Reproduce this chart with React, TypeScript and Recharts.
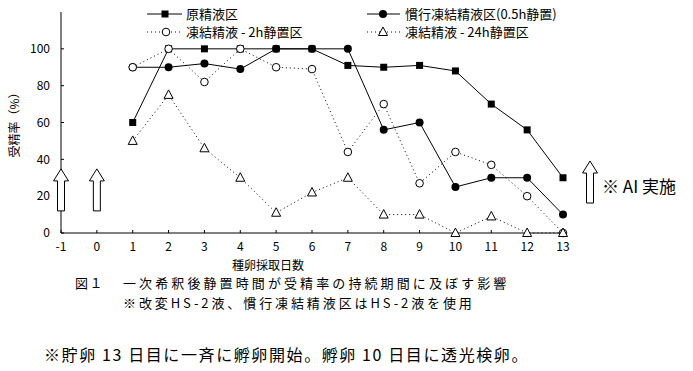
import React from 'react';
import { Line, XAxis, YAxis, Scatter, ComposedChart } from 'recharts';

const days = [1, 2, 3, 4, 5, 6, 7, 8, 9, 10, 11, 12, 13];
const genSeieki = [60, 100, 100, 100, 100, 100, 91, 90, 91, 88, 70, 56, 30];
const kankou = [90, 90, 92, 89, 100, 100, 100, 56, 60, 25, 30, 30, 10];
const touketsu2h = [90, 100, 82, 100, 90, 89, 44, 70, 27, 44, 37, 20, 0];
const touketsu24h = [50, 75, 46, 30, 11, 22, 30, 10, 10, 0, 9, 0, 0];
const xTicks = [-1, 0, 1, 2, 3, 4, 5, 6, 7, 8, 9, 10, 11, 12, 13];
const yTicks = [0, 20, 40, 60, 80, 100];
const arrowDays = [-1, 0];

const data = days.map((d, i) => ({
  day: d,
  gen: genSeieki[i],
  kan: kankou[i],
  t2: touketsu2h[i],
  t24: touketsu24h[i],
}));
const arrowData = arrowDays.map((d) => ({ day: d, y: 12 }));

const FONT = '"Noto Sans CJK JP", sans-serif';

const SquareDot = (p: any) => (
  <rect key={p.key} x={p.cx - 3.5} y={p.cy - 3.5} width={7} height={7} fill="#000" />
);
const FilledDot = (p: any) => <circle key={p.key} cx={p.cx} cy={p.cy} r={4} fill="#000" />;
const OpenDot = (p: any) => (
  <circle key={p.key} cx={p.cx} cy={p.cy} r={3.8} fill="#fff" stroke="#000" strokeWidth={1} />
);
const TriDot = (p: any) => (
  <polygon
    key={p.key}
    points={`${p.cx},${p.cy - 5} ${p.cx - 4.5},${p.cy + 3.5} ${p.cx + 4.5},${p.cy + 3.5}`}
    fill="#fff"
    stroke="#000"
    strokeWidth={1}
  />
);

// hollow up arrow, base at (cx, cy)
const arrowPts = (cx: number, cy: number) =>
  `${cx - 3.5},${cy} ${cx + 3.5},${cy} ${cx + 3.5},${cy - 30} ${cx + 7.5},${cy - 30} ${cx},${cy - 42} ${cx - 7.5},${cy - 30} ${cx - 3.5},${cy - 30}`;
const ArrowShape = (p: any) => (
  <polygon points={arrowPts(p.cx, p.cy)} fill="#fff" stroke="#000" strokeWidth={1} />
);

const txt = { fontFamily: FONT, fill: '#000' };

export default function App() {
  return (
    <div style={{ position: 'absolute', left: 0, top: 0, width: 693, height: 371, background: '#fff' }}>
      <ComposedChart
        width={693}
        height={371}
        data={data}
        margin={{ top: 12, right: 130, bottom: 108, left: 21 }}
      >
        <XAxis
          type="number"
          dataKey="day"
          domain={[-1, 13]}
          ticks={xTicks}
          interval={0}
          height={30}
          tickSize={-3}
          tickMargin={12}
          axisLine={{ stroke: '#000' }}
          tickLine={{ stroke: '#000' }}
          tick={{ ...txt, fontSize: 12 }}
        />
        <YAxis
          type="number"
          domain={[0, 120]}
          ticks={yTicks}
          interval={0}
          width={40}
          tickSize={-3}
          tickMargin={14}
          axisLine={{ stroke: '#000' }}
          tickLine={{ stroke: '#000' }}
          tick={{ ...txt, fontSize: 12 }}
        />
        <Scatter
          data={arrowData}
          dataKey="y"
          shape={ArrowShape}
          isAnimationActive={false}
        />
        <Line dataKey="gen" stroke="#000" strokeWidth={1} dot={SquareDot} isAnimationActive={false} />
        <Line dataKey="kan" stroke="#000" strokeWidth={1} dot={FilledDot} isAnimationActive={false} />
        <Line
          dataKey="t2"
          stroke="#000"
          strokeWidth={1}
          strokeDasharray="1 3"
          dot={OpenDot}
          isAnimationActive={false}
        />
        <Line
          dataKey="t24"
          stroke="#000"
          strokeWidth={1}
          strokeDasharray="1 3"
          dot={TriDot}
          isAnimationActive={false}
        />
      </ComposedChart>
      <svg
        width={693}
        height={371}
        style={{ position: 'absolute', left: 0, top: 0, pointerEvents: 'none' }}
      >
        {/* legend */}
        <line x1={147} y1={14} x2={182} y2={14} stroke="#000" />
        <rect x={161.5} y={10.5} width={7} height={7} fill="#000" />
        <text x={186} y={18.5} fontSize={13} {...txt}>原精液区</text>
        <line x1={147} y1={32} x2={182} y2={32} stroke="#000" strokeDasharray="1 3" />
        <circle cx={166} cy={32} r={3.8} fill="#fff" stroke="#000" />
        <text x={186} y={36.5} fontSize={13} {...txt}>凍結精液 - 2h静置区</text>
        <line x1={367} y1={14} x2={400} y2={14} stroke="#000" />
        <circle cx={383} cy={14} r={4} fill="#000" />
        <text x={405} y={18.5} fontSize={13} {...txt}>慣行凍結精液区(0.5h静置)</text>
        <line x1={367} y1={32} x2={400} y2={32} stroke="#000" strokeDasharray="1 3" />
        <polygon points="383,27 378.5,35.5 387.5,35.5" fill="#fff" stroke="#000" />
        <text x={405} y={36.5} fontSize={13} {...txt}>凍結精液 - 24h静置区</text>

        {/* y label */}
        <text
          x={0}
          y={0}
          fontSize={12}
          textAnchor="middle"
          transform="translate(19,122) rotate(-90)"
          {...txt}
        >
          受精率（%）
        </text>
        <text x={268} y={270} fontSize={12} textAnchor="middle" {...txt}>種卵採取日数</text>

        {/* AI note */}
        <polygon points={arrowPts(590, 203)} fill="#fff" stroke="#000" />
        <text x={602} y={193} fontSize={17} {...txt}>※ AI 実施</text>

        {/* captions */}
        <text x={75} y={288} fontSize={13} letterSpacing={1.5} {...txt}>図１</text>
        <text x={123} y={288} fontSize={13} letterSpacing={3.1} {...txt}>一次希釈後静置時間が受精率の持続期間に及ぼす影響</text>
        <text x={123} y={308} fontSize={13} letterSpacing={2.9} {...txt}>※改変HS-2液、慣行凍結精液区はHS-2液を使用</text>
        <text x={44} y={361} fontSize={16} letterSpacing={1.6} {...txt}>※貯卵 13 日目に一斉に孵卵開始。孵卵 10 日目に透光検卵。</text>
      </svg>
    </div>
  );
}
